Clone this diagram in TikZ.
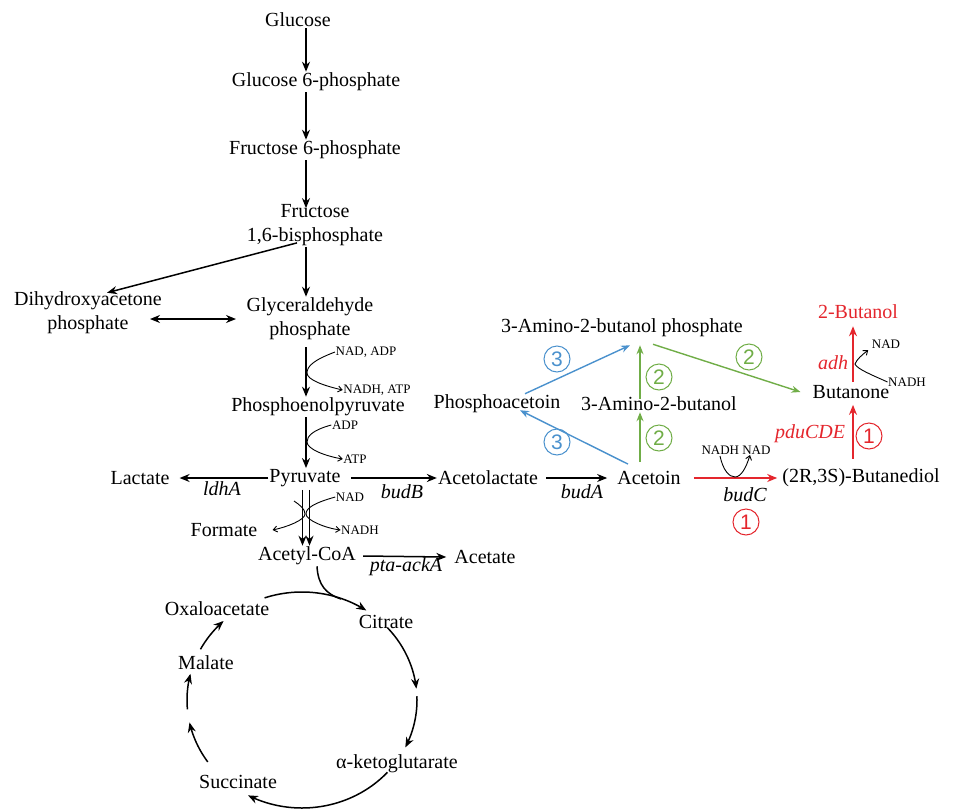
\documentclass[tikz,border=0pt]{standalone}
\usepackage{fontspec}
\setmainfont{Liberation Serif}
\newfontfamily\circfont{Liberation Sans}
\usetikzlibrary{arrows.meta,calc}
\definecolor{pred}{RGB}{228,38,45}
\definecolor{pgreen}{RGB}{112,173,71}
\definecolor{pblue}{RGB}{74,145,205}
\begin{document}
\begin{tikzpicture}[x=1pt,y=-1pt,
  met/.style={inner sep=1pt, font=\fontsize{20}{24}\selectfont, align=center},
  small/.style={inner sep=0.5pt, font=\fontsize{13}{14}\selectfont},
  gene/.style={inner sep=1pt, font=\fontsize{20}{24}\selectfont\itshape},
  arr/.style={line width=1.5pt, -{Stealth[length=10pt,width=8pt]}},
  rarr/.style={line width=1.5pt, {Stealth[length=10pt,width=8pt]}-},
  arrd/.style={line width=1.5pt, {Stealth[length=10pt,width=8pt]}-{Stealth[length=10pt,width=8pt]}},
  carr/.style={line width=1.4pt, -{Stealth[length=9pt,width=7pt]}},
  redarr/.style={line width=1.8pt, pred, -{Stealth[length=10pt,width=8pt]}},
  side/.style={line width=0.9pt, -{Straight Barb[length=4pt,width=6pt]}},
  num/.style={circle, draw, line width=1pt, minimum size=26pt, inner sep=0pt, font=\circfont\fontsize{21}{21}\selectfont},
]
\useasboundingbox (0,0) rectangle (956,809);
\coordinate (cx) at (306,0);
\coordinate (gx) at (640,0);
\coordinate (rx) at (853,0);

% glycolysis
\node[met] (glc) at (298,20) {Glucose};
\node[met] (g6p) at (316,82) {Glucose 6-phosphate};
\node[met] (f6p) at (315,150) {Fructose 6-phosphate};
\node[met] (fbp) at (315,225) {Fructose\\1,6-bisphosphate};
\node[met] (dhap) at (88,313) {Dihydroxyacetone\\phosphate};
\node[met] (gap) at (310,319) {Glyceraldehyde\\phosphate};
\node[small] (s1a) at (366,352) {NAD, ADP};
\node[small] (s1b) at (377,390) {NADH, ATP};
\node[met] (pep) at (318,407) {Phosphoenolpyruvate};
\node[small] (s2a) at (345,425) {ADP};
\node[small] (s2b) at (355,459) {ATP};
\node[met] (pyr) at (305,478) {Pyruvate};
\node[met] (lac) at (140,478) {Lactate};
\node[gene] (ldhA) at (222,489) {ldhA};
\node[gene] (budB) at (402,492) {budB};
\node[small] (s3a) at (350,497) {NAD};
\node[small] (s3b) at (360,530) {NADH};
\node[met] (form) at (224,530) {Formate};
\node[met] (acoa) at (307,556) {Acetyl-CoA};
\node[gene] (pta) at (406,567) {pta-ackA};
\node[met] (acet) at (485,557) {Acetate};
\node[met] (alac) at (488,478) {Acetolactate};
\node[gene] (budA) at (582,492) {budA};
\node[met] (acn) at (649,478) {Acetoin};
\node[met] (pac) at (497,404) {Phosphoacetoin};
\node[met] (ab) at (659,404) {3-Amino-2-butanol};
\node[met] (abp) at (622,328) {3-Amino-2-butanol phosphate};
\node[met] (bdo) at (861,478) {(2R,3S)-Butanediol};
\node[met] (btn) at (851,392) {Butanone};
\node[met,text=pred] (but2) at (858,312) {2-Butanol};
\node[gene,text=pred] (adh) at (833,363) {adh};
\node[small] (s4a) at (886,344) {NAD};
\node[small] (s4b) at (907,382) {NADH};
\node[gene,text=pred] (pdu) at (810,434) {pduCDE};
\node[small] (s5) at (736,450) {NADH NAD};
\node[gene] (budC) at (745,495) {budC};
% TCA
\node[met] (oaa) at (217,609) {Oxaloacetate};
\node[met] (cit) at (386,622) {Citrate};
\node[met] (mal) at (206,663) {Malate};
\node[met] (akg) at (397,764) {α-ketoglutarate};
\node[met] (suc) at (238,782) {Succinate};
% circled numbers
\node[num,pblue] (n3a) at (557,359) {3};
\node[num,pblue] (n3b) at (557,442) {3};
\node[num,pgreen] (n2a) at (659,377) {2};
\node[num,pgreen] (n2b) at (659,438) {2};
\node[num,pgreen] (n2c) at (749,357) {2};
\node[num,pred] (n1a) at (869,436) {1};
\node[num,pred] (n1b) at (746,522) {1};

% main column
\draw[arr] (glc.south -| cx) -- (g6p.north -| cx);
\draw[arr] (g6p.south -| cx) -- (f6p.north -| cx);
\draw[arr] (f6p.south -| cx) -- ($(fbp.north -| cx)+(0,5)$);
\draw[arr] (fbp.south -| cx) -- (gap.north -| cx);
\draw[arr] ($(fbp.south)+(-18,-4)$) -- ($(dhap.north)+(19,2)$);
\draw[arrd] ($(dhap.center)+(62,6)$) -- ($(gap.center)+(-74,0)$);
\draw[arr] ($(gap.south -| cx)+(0,6)$) -- (pep.north -| cx);
\draw[side] (s1a.west) .. controls (314,360) and (307,366) .. (307,373) .. controls (307,380) and (325,386) .. (s1b.west);
\draw[arr] (pep.south -| cx) -- (pyr.north -| cx);
\draw[side] (s2a.west) .. controls (313,430) and (307,436) .. (307,442) .. controls (307,449) and (325,456) .. (s2b.west);
\draw[arr] (pyr.west) -- ($(lac.east)+(9,0)$);
\draw[arr] ($(pyr.east)+(9,0)$) -- (alac.west);
\draw[arr] ($(pyr.south -| cx)+(-3.5,2)$) -- ($(acoa.north -| cx)+(-3.5,0)$);
\draw[arr] ($(pyr.south -| cx)+(3.5,2)$) -- ($(acoa.north -| cx)+(3.5,0)$);
\draw[side] (s3a.west) .. controls (314,503) and (306,508) .. (306,514) .. controls (306,520) and (325,528) .. (s3b.west);
\coordinate (fst) at (294,501);
\draw[side] (fst) .. controls (300,505) and (305,509) .. (305,514) .. controls (305,520) and (287,527) .. ($(form.east)+(14,0)$);
\draw[arr] ($(acoa.east)+(6,0)$) -- ($(acet.west)+(-7,0)$);

% right branch
\draw[arr] ($(alac.east)+(7,0)$) -- ($(acn.west)+(-9,0)$);
\draw[redarr] ($(acn.east)+(12,0)$) -- ($(bdo.west)+(-4,0)$);
\draw[side] ($(s5.south)+(-16,1)$) .. controls (723,470) and (729,477) .. (735,477) .. controls (741,477) and (746,468) .. ($(s5.south)+(14,0)$);
\draw[carr,pblue] ($(acn.north)+(-21,-6)$) -- ($(pac.south)+(23,-4)$);
\draw[carr,pblue] ($(pac.north)+(28,0)$) -- ($(abp.south)+(8,7)$);
\draw[carr,pgreen] ($(acn.north -| gx)+(0,-8)$) -- (ab.south -| gx);
\draw[carr,pgreen] ($(ab.north -| gx)+(0,3)$) -- ($(abp.south -| gx)+(0,7)$);
\draw[carr,pgreen] ($(abp.south)+(31,6)$) -- ($(btn.west)+(-11,0)$);
\draw[redarr] ($(bdo.north -| rx)+(0,-9)$) -- ($(btn.south -| rx)+(0,5)$);
\draw[redarr] ($(btn.north -| rx)+(0,-2)$) -- ($(but2.south -| rx)+(0,6)$);
\draw[side] (s4b.west) .. controls (872,375) and (857,369) .. (855,364) .. controls (857,359) and (862,355) .. ($(s4a.west)+(-3,6)$);

% TCA cycle
\draw[line width=1.5pt] ($(acoa.south)+(10,0)$) .. controls (318,585) and (326,594) .. (341,599);
\draw[rarr] plot[domain=56:109, samples=40] ({302+115*cos(\x)},{700-108*sin(\x)});
\draw[rarr] plot[domain=6:42, samples=30] ({302+115*cos(\x)},{700-108*sin(\x)});
\draw[rarr] plot[domain=-26:2, samples=30] ({302+115*cos(\x)},{700-108*sin(\x)});
\draw[rarr] plot[domain=-118:-42, samples=50] ({302+115*cos(\x)},{700-108*sin(\x)});
\draw[rarr] plot[domain=-168:-145, samples=25] ({302+115*cos(\x)},{700-108*sin(\x)});
\draw[rarr] plot[domain=-194:-175, samples=25] ({302+115*cos(\x)},{700-108*sin(\x)});
\draw[rarr] plot[domain=133:152, samples=25] ({302+115*cos(\x)},{700-108*sin(\x)});
\end{tikzpicture}
\end{document}
